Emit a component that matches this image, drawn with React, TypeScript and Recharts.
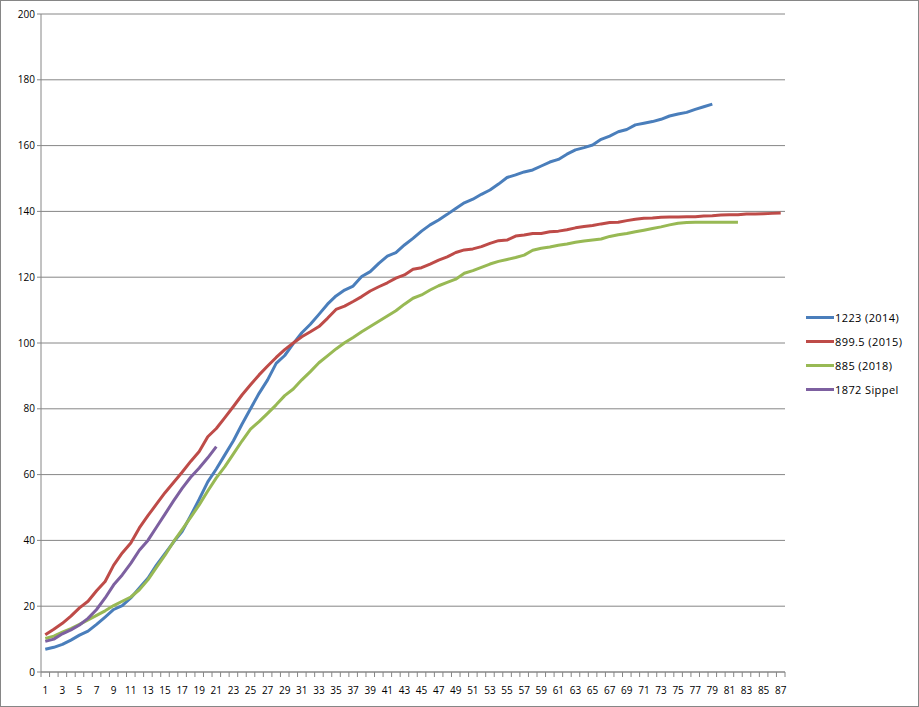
import React from 'react';
import { LineChart, Line, XAxis, YAxis, CartesianGrid } from 'recharts';

const categories = Array.from({ length: 87 }, (_, i) => i + 1);

const series2014 = [
  6.9, 7.5, 8.4, 9.7, 11.2, 12.4, 14.5, 16.7, 19.0, 20.2,
  22.5, 25.5, 28.5, 32.5, 36.0, 39.5, 42.7, 47.5, 52.5, 57.8,
  61.7, 66.0, 70.3, 75.3, 80.0, 84.7, 88.8, 93.8, 96.2, 99.8,
  103.1, 105.7, 108.7, 111.8, 114.3, 116.1, 117.3, 120.2, 121.7, 124.2,
  126.4, 127.5, 129.8, 131.8, 134.0, 135.9, 137.4, 139.1, 140.9, 142.6,
  143.7, 145.2, 146.5, 148.3, 150.3, 151.1, 152.0, 152.6, 153.8, 155.0,
  155.8, 157.4, 158.7, 159.4, 160.2, 161.9, 162.9, 164.2, 164.9, 166.3,
  166.8, 167.3, 168.0, 169.0, 169.6, 170.1, 171.0, 171.8, 172.6,
];

const series2015 = [
  11.3, 13.0, 14.8, 17.0, 19.5, 21.5, 24.7, 27.5, 32.5, 36.2,
  39.2, 43.8, 47.5, 51.0, 54.5, 57.6, 60.7, 64.0, 67.0, 71.5,
  74.0, 77.3, 80.7, 84.2, 87.3, 90.3, 93.0, 95.6, 98.0, 100.0,
  101.9, 103.4, 105.0, 107.5, 110.2, 111.2, 112.6, 114.1, 115.8, 117.1,
  118.3, 119.7, 120.7, 122.4, 122.9, 124.0, 125.2, 126.2, 127.5, 128.3,
  128.6, 129.3, 130.3, 131.1, 131.3, 132.5, 132.8, 133.3, 133.3, 133.8,
  134.0, 134.4, 135.0, 135.4, 135.7, 136.2, 136.6, 136.7, 137.2, 137.6,
  137.9, 138.0, 138.2, 138.3, 138.3, 138.4, 138.4, 138.6, 138.7, 138.9,
  139.0, 139.0, 139.2, 139.2, 139.3, 139.4, 139.5,
];

const series2018 = [
  10.2, 10.9, 12.1, 13.2, 14.5, 15.8, 17.2, 18.6, 20.2, 21.5,
  22.8, 25.0, 28.0, 31.8, 35.5, 39.6, 43.3, 47.0, 50.8, 55.0,
  59.0, 62.4, 66.3, 70.2, 73.8, 76.1, 78.6, 81.2, 84.0, 86.0,
  88.8, 91.3, 94.0, 96.1, 98.2, 100.1, 101.7, 103.4, 105.0, 106.6,
  108.2, 109.8, 111.8, 113.6, 114.6, 116.1, 117.4, 118.4, 119.4, 121.2,
  122.0, 123.0, 124.0, 124.8, 125.4, 126.0, 126.7, 128.2, 128.8, 129.2,
  129.7, 130.1, 130.6, 131.0, 131.3, 131.6, 132.4, 132.9, 133.3, 133.8,
  134.3, 134.8, 135.3, 135.9, 136.4, 136.6, 136.7, 136.7, 136.7, 136.7,
  136.7, 136.7,
];

const seriesSippel = [
  9.3, 10.0, 11.6, 12.8, 14.3, 16.3, 19.0, 22.5, 26.5, 29.5,
  33.0, 37.0, 40.0, 44.0, 48.0, 52.0, 55.8, 59.2, 62.0, 65.1,
  68.5,
];

const yTicks = [0, 20, 40, 60, 80, 100, 120, 140, 160, 180, 200];

const seriesInfo = [
  { key: 's2014', name: '1223 (2014)', color: '#4a7ebb' },
  { key: 's2015', name: '899.5 (2015)', color: '#be4b48' },
  { key: 's2018', name: '885 (2018)', color: '#98b954' },
  { key: 'sippel', name: '1872 Sippel', color: '#7d60a0' },
];

const data = categories.map((c, i) => ({
  cat: c,
  s2014: i < series2014.length ? series2014[i] : null,
  s2015: i < series2015.length ? series2015[i] : null,
  s2018: i < series2018.length ? series2018[i] : null,
  sippel: i < seriesSippel.length ? seriesSippel[i] : null,
}));

const W = 919;
const H = 707;
const PLOT_LEFT = 41;
const PLOT_RIGHT = 785;
const PLOT_TOP = 14;
const PLOT_BOTTOM = 672;
const HALF_BAND = (PLOT_RIGHT - PLOT_LEFT) / categories.length / 2;
const GRID = '#868686';
const FONT = '"Open Sans", "Liberation Sans", sans-serif';

const XTick = (props: any) => {
  const { x, payload, index } = props;
  const last = index === categories.length - 1;
  return (
    <g>
      <line x1={x - HALF_BAND} x2={x - HALF_BAND} y1={PLOT_BOTTOM} y2={PLOT_BOTTOM + 5} stroke={GRID} />
      {last && (
        <line x1={x + HALF_BAND} x2={x + HALF_BAND} y1={PLOT_BOTTOM} y2={PLOT_BOTTOM + 5} stroke={GRID} />
      )}
      {payload.value % 2 === 1 && (
        <text x={x} y={PLOT_BOTTOM + 22} textAnchor="middle" fontSize={10} fontFamily={FONT} fill="#000">
          {payload.value}
        </text>
      )}
    </g>
  );
};

export default function App() {
  return (
    <div
      style={{
        position: 'absolute',
        left: 0,
        top: 0,
        width: W,
        height: H,
        border: `1px solid ${GRID}`,
        boxSizing: 'border-box',
        background: '#fff',
        overflow: 'hidden',
      }}
    >
      <div style={{ position: 'absolute', left: -1, top: -1 }}>
        <LineChart
          width={W}
          height={H}
          data={data}
          margin={{ top: PLOT_TOP, right: W - PLOT_RIGHT, bottom: 0, left: 0 }}
        >
          <CartesianGrid vertical={false} stroke={GRID} strokeWidth={1} />
          <XAxis
            dataKey="cat"
            type="category"
            interval={0}
            height={H - PLOT_BOTTOM}
            padding={{ left: HALF_BAND, right: HALF_BAND }}
            axisLine={{ stroke: GRID }}
            tickLine={false}
            tick={<XTick />}
          />
          <YAxis
            width={PLOT_LEFT}
            domain={[0, 200]}
            ticks={yTicks}
            interval={0}
            axisLine={{ stroke: GRID }}
            tickLine={{ stroke: GRID }}
            tickSize={4}
            tickMargin={2}
            tick={{ fontSize: 10, fontFamily: FONT, fill: '#000' }}
          />
          {seriesInfo.map((s) => (
            <Line
              key={s.key}
              type="linear"
              dataKey={s.key}
              name={s.name}
              stroke={s.color}
              strokeWidth={3}
              dot={false}
              activeDot={false}
              strokeLinejoin="round"
              isAnimationActive={false}
            />
          ))}
        </LineChart>
      </div>
      <div style={{ position: 'absolute', left: 805, top: 304, fontFamily: FONT, fontSize: 11 }}>
        {seriesInfo.map((s) => (
          <div key={s.key} style={{ display: 'flex', alignItems: 'center', height: 24 }}>
            <span style={{ display: 'inline-block', width: 28, height: 3, background: s.color }} />
            <span style={{ marginLeft: 1, color: '#000', letterSpacing: 0.4 }}>{s.name}</span>
          </div>
        ))}
      </div>
    </div>
  );
}
